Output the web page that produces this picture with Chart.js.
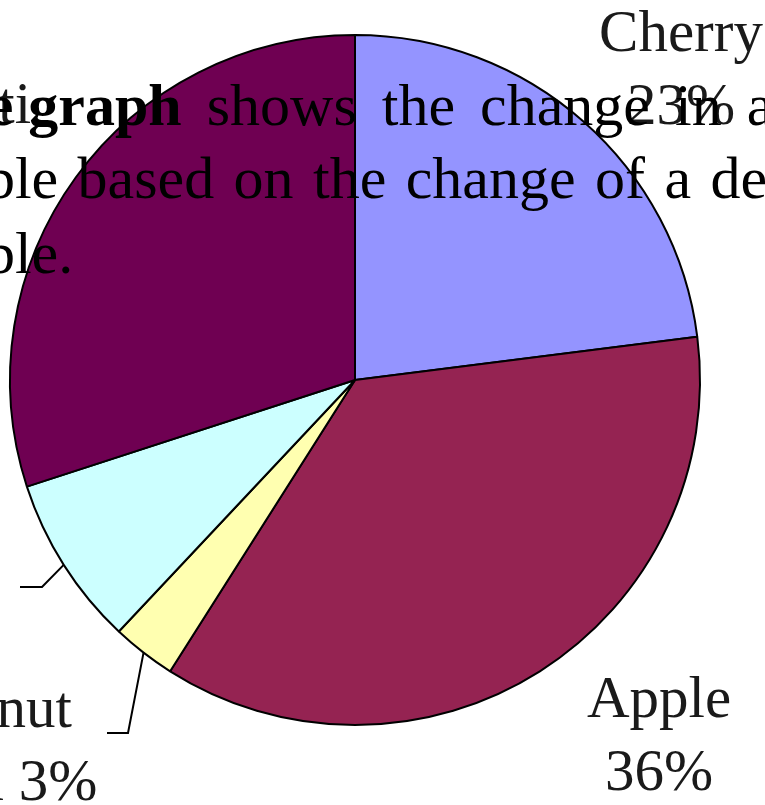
<!DOCTYPE html>
<html>
<head>
<meta charset="utf-8">
<script src="https://cdn.jsdelivr.net/npm/chart.js@4"></script>
<style>
  html, body { margin: 0; padding: 0; background: #fff; }
  #wrap { position: relative; width: 765px; height: 805px; overflow: hidden; }
  #pie { position: absolute; left: 0; top: 0; }
  .linea {
    position: absolute;
    white-space: nowrap;
    font-family: "Liberation Serif", "Times New Roman", serif;
    font-size: 60px;
    line-height: 60px;
    color: #000;
  }
</style>
</head>
<body>
<div id="wrap">
  <canvas id="pie" width="765" height="805"></canvas>
  <div class="linea" style="left:-135px; top:75px;">A <b>line graph</b><span style="word-spacing:10px;"> shows the change in a</span></div>
  <div class="linea" style="left:-135px; top:148px; word-spacing:4.4px;">variable based on the change of a dependent</div>
  <div class="linea" style="left:-135px; top:223px;">variable.</div>
</div>

<script>
// sabores y porcentajes
const sabores = ["Cherry", "Apple", "Coconut Cream", "Lemon", "Tutti-frutti"];
const porcentajes = [23, 36, 3, 8, 30];

const colores = ["#9494FF", "#952352", "#FFFFB0", "#CCFFFF", "#6F0052"];

// posición de cada etiqueta respecto al centro del pastel (centro x, primera línea base)
const posEtiquetas = [[326, -329], [304, 337], [-383, 347], [-440, 207], [-449, -257]];
// líneas guía: codo y final, también respecto al centro
const guias = {
  2: [[-227, 353], [-248, 353]],
  3: [[-313, 207], [-335, 207]]
};

function partirEtiqueta(nombre, pct) {
  const palabras = nombre.split(" ");
  if (palabras.length > 1) {
    return [palabras[0], palabras.slice(1).join(" ") + " " + pct + "%"];
  }
  return [nombre, pct + "%"];
}

const etiquetasPlugin = {
  id: "etiquetasPastel",
  afterDatasetsDraw(chart) {
    const ctx = chart.ctx;
    const arcos = chart.getDatasetMeta(0).data;
    ctx.save();
    arcos.forEach((arco, i) => {
      const cx = arco.x, cy = arco.y;

      // línea guía desde el borde del sector
      if (guias[i]) {
        const medio = (arco.startAngle + arco.endAngle) / 2;
        const r = arco.outerRadius;
        ctx.beginPath();
        ctx.moveTo(cx + Math.cos(medio) * r, cy + Math.sin(medio) * r);
        guias[i].forEach(p => ctx.lineTo(cx + p[0], cy + p[1]));
        ctx.strokeStyle = "#000";
        ctx.lineWidth = 2;
        ctx.stroke();
      }

      const lineas = partirEtiqueta(sabores[i], porcentajes[i]);
      ctx.font = '59px "Liberation Serif", "Times New Roman", serif';
      ctx.fillStyle = "#1a1a1a";
      ctx.textAlign = "center";
      ctx.textBaseline = "alphabetic";
      lineas.forEach((txt, k) => {
        ctx.fillText(txt, cx + posEtiquetas[i][0], cy + posEtiquetas[i][1] + k * 73);
      });
    });
    ctx.restore();
  }
};

new Chart(document.getElementById("pie"), {
  type: "pie",
  data: {
    labels: sabores,
    datasets: [{
      data: porcentajes,
      backgroundColor: colores,
      borderColor: "#000",
      borderWidth: 2
    }]
  },
  options: {
    responsive: false,
    animation: false,
    devicePixelRatio: 1,
    layout: {
      padding: { left: 9, right: 64, top: 34, bottom: 79 }
    },
    plugins: {
      legend: { display: false },
      tooltip: { enabled: false }
    }
  },
  plugins: [etiquetasPlugin]
});
</script>
</body>
</html>
